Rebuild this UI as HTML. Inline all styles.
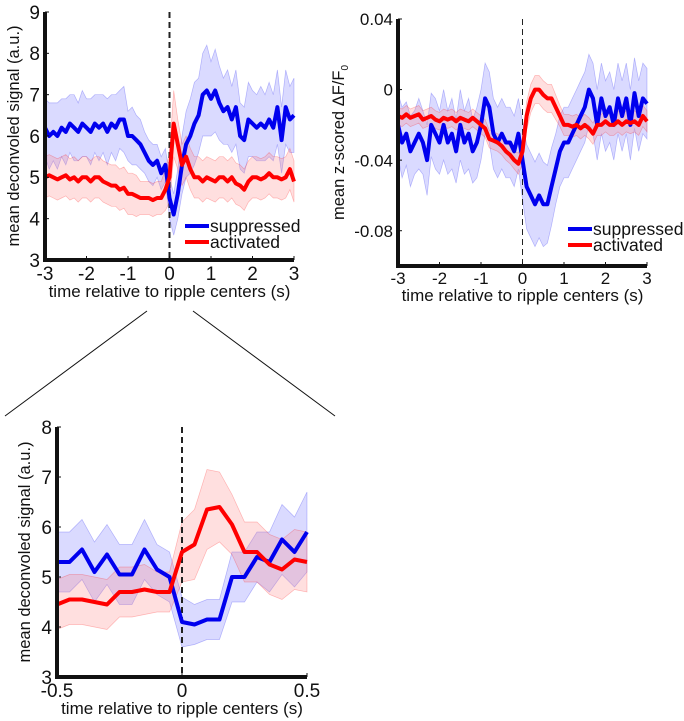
<!DOCTYPE html>
<html><head><meta charset="utf-8"><style>
body{margin:0;background:#fff;}
svg{display:block;font-family:"Liberation Sans",Arial,sans-serif;}
</style></head><body>
<svg id="fig" width="684" height="721" viewBox="0 0 684 721"></svg>
<script>
// Panel A: deconvolved signal, -3..3 s
const tA = [];
const blueA = [6.2,6.0,6.1,6.0,6.2,6.1,6.3,6.2,6.1,6.3,6.2,6.1,6.3,6.2,6.3,6.1,6.3,6.2,6.4,6.4,6.0,6.0,5.9,5.8,5.6,5.4,5.3,5.4,5.1,5.3,4.5,4.1,4.6,5.3,5.8,6.0,6.3,6.5,7.0,7.1,6.9,7.1,6.8,6.6,6.7,6.4,6.7,6.0,5.9,6.4,6.3,6.2,6.3,6.2,6.4,6.2,6.7,5.9,6.7,6.4,6.5];
const blueErrA = [0.7,0.8,0.7,0.8,0.7,0.8,0.7,0.8,0.7,0.8,0.7,0.8,0.7,0.8,0.7,0.8,0.7,0.8,0.7,0.8,0.6,0.7,0.6,0.6,0.5,0.5,0.5,0.4,0.4,0.4,0.5,0.5,0.6,0.7,0.8,0.9,1.0,0.9,1.0,1.1,0.9,1.0,0.9,0.8,0.9,0.8,0.9,0.8,0.8,0.9,0.8,0.8,0.9,0.8,0.9,0.8,0.9,0.8,0.9,0.8,0.9];
const redA = [5.0,5.05,5.0,4.95,5.0,5.05,4.95,5.0,4.9,5.0,5.0,4.9,5.0,5.0,4.9,4.85,4.8,4.8,4.7,4.75,4.6,4.6,4.55,4.5,4.5,4.5,4.45,4.5,4.5,4.7,5.0,6.3,5.8,5.3,5.5,5.2,5.0,5.0,4.9,5.0,4.95,4.9,5.0,5.0,4.9,5.0,4.85,4.8,4.7,4.9,5.0,5.0,4.95,5.0,5.1,5.0,5.0,4.95,5.0,5.2,4.9];
const redErrA = [0.5,0.5,0.5,0.5,0.5,0.5,0.5,0.5,0.5,0.5,0.5,0.5,0.5,0.5,0.5,0.5,0.5,0.5,0.5,0.5,0.5,0.5,0.5,0.4,0.4,0.4,0.4,0.4,0.4,0.5,0.6,0.8,0.6,0.5,0.5,0.5,0.5,0.5,0.5,0.5,0.5,0.5,0.5,0.5,0.5,0.5,0.5,0.5,0.5,0.5,0.5,0.5,0.5,0.5,0.5,0.5,0.5,0.5,0.5,0.5,0.5];
for(let i=0;i<61;i++) tA.push(-3+i*0.1);
const xTicksA = ["-3","-2","-1","0","1","2","3"];
const yTicksA = ["3","4","5","6","7","8","9"];

// Panel B: z-scored dF/F
const blueB = [-0.02,-0.03,-0.025,-0.035,-0.03,-0.025,-0.03,-0.04,-0.02,-0.025,-0.03,-0.02,-0.03,-0.025,-0.035,-0.02,-0.03,-0.025,-0.035,-0.03,-0.02,-0.005,-0.01,-0.025,-0.03,-0.025,-0.03,-0.03,-0.035,-0.025,-0.04,-0.055,-0.06,-0.065,-0.06,-0.065,-0.065,-0.055,-0.045,-0.035,-0.03,-0.03,-0.025,-0.02,-0.015,-0.01,0.0,-0.005,-0.02,-0.005,-0.015,-0.01,-0.02,-0.005,-0.015,-0.005,-0.02,-0.002,-0.015,-0.005,-0.008];
const blueErrB = [0.018,0.02,0.018,0.02,0.018,0.02,0.018,0.02,0.018,0.02,0.018,0.02,0.018,0.02,0.018,0.02,0.018,0.02,0.018,0.02,0.02,0.02,0.02,0.02,0.02,0.02,0.02,0.02,0.02,0.02,0.022,0.024,0.024,0.024,0.024,0.024,0.022,0.022,0.02,0.02,0.02,0.02,0.02,0.02,0.02,0.02,0.02,0.02,0.02,0.02,0.02,0.02,0.02,0.02,0.02,0.02,0.02,0.02,0.02,0.02,0.02];
const redB = [-0.015,-0.016,-0.014,-0.016,-0.015,-0.014,-0.017,-0.016,-0.015,-0.017,-0.018,-0.016,-0.017,-0.016,-0.018,-0.016,-0.017,-0.018,-0.016,-0.018,-0.02,-0.022,-0.028,-0.029,-0.03,-0.032,-0.035,-0.037,-0.04,-0.042,-0.035,-0.015,-0.005,0.0,0.0,-0.003,-0.005,-0.005,-0.01,-0.015,-0.02,-0.02,-0.021,-0.02,-0.022,-0.02,-0.022,-0.025,-0.02,-0.02,-0.018,-0.02,-0.02,-0.018,-0.02,-0.018,-0.019,-0.018,-0.02,-0.015,-0.018];
const redErrB = [0.005,0.005,0.005,0.005,0.005,0.005,0.005,0.005,0.005,0.005,0.005,0.005,0.005,0.005,0.005,0.005,0.005,0.005,0.005,0.005,0.005,0.005,0.005,0.005,0.005,0.005,0.005,0.005,0.005,0.006,0.007,0.008,0.008,0.008,0.008,0.008,0.008,0.008,0.007,0.006,0.006,0.006,0.006,0.006,0.006,0.006,0.006,0.006,0.006,0.006,0.006,0.006,0.006,0.006,0.006,0.006,0.006,0.006,0.006,0.006,0.006];
const yTicksB = ["-0.08","-0.04","0","0.04"];

// Panel C: zoom -0.5..0.5
const tC = [];
for(let i=0;i<21;i++) tC.push(-0.5+i*0.05);
const blueC = [5.3,5.3,5.55,5.1,5.45,5.05,5.05,5.55,5.15,5.0,4.1,4.05,4.15,4.15,5.0,5.0,5.4,5.3,5.75,5.5,5.9];
const blueErrC = [0.6,0.6,0.6,0.6,0.6,0.6,0.6,0.6,0.5,0.5,0.5,0.4,0.4,0.4,0.5,0.5,0.5,0.6,0.7,0.7,0.8];
const redC = [4.45,4.55,4.55,4.5,4.45,4.7,4.7,4.75,4.7,4.7,5.5,5.65,6.35,6.4,6.05,5.5,5.5,5.25,5.15,5.35,5.3];
const redErrC = [0.5,0.5,0.5,0.5,0.5,0.5,0.5,0.5,0.4,0.4,0.6,0.7,0.8,0.7,0.6,0.6,0.6,0.6,0.6,0.6,0.6];
const xTicksC = ["-0.5","0","0.5"];
const yTicksC = ["3","4","5","6","7","8"];

const NS="http://www.w3.org/2000/svg";
const svg=document.getElementById('fig');
function mk(tag,attrs,parent){const e=document.createElementNS(NS,tag);for(const k in attrs)e.setAttribute(k,attrs[k]);(parent||svg).appendChild(e);return e;}

function panel(name,x0,x1,y0,y1,xmin,xmax,ymin,ymax,t,series,xt,yt,lw,fs,ylab,legend){
  const g=mk('g',{});
  
  
  const sx=v=>x0+(v-xmin)/(xmax-xmin)*(x1-x0);
  const sy=v=>y1-(v-ymin)/(ymax-ymin)*(y1-y0);
  series.forEach(s=>{
    let up='',lo='';
    t.forEach((tv,i)=>{up+=(i?'L':'M')+sx(tv).toFixed(1)+','+sy(s.m[i]+s.e[i]).toFixed(1);});
    for(let i=t.length-1;i>=0;i--) lo+='L'+sx(t[i]).toFixed(1)+','+sy(s.m[i]-s.e[i]).toFixed(1);
    const b=mk('path',{d:up+lo+'Z',fill:s.fill,'fill-opacity':0.25,stroke:s.c,'stroke-opacity':0.25,'stroke-width':0.7},g);
    
    
  });
  const z=mk('line',{x1:sx(0),x2:sx(0),y1:y0,y2:y1,stroke:'#222','stroke-width':name==='panel-b'?1:2,'stroke-dasharray':'6,4'},g);
  
  
  series.forEach(s=>{
    let d='';t.forEach((tv,i)=>{d+=(i?'L':'M')+sx(tv).toFixed(1)+','+sy(s.m[i]).toFixed(1);});
    const p=mk('path',{d:d,fill:'none',stroke:s.c,'stroke-width':lw,'stroke-linejoin':'round'},g);
    
    
  });
  const ax=mk('path',{d:`M${x0},${y0}L${x0},${y1}L${x1},${y1}`,fill:'none',stroke:'#111','stroke-width':4},g);
  
  
  xt.forEach(l=>{
    const v=parseFloat(l);
    mk('line',{x1:sx(v),x2:sx(v),y1:y1,y2:y1-4,stroke:'#111','stroke-width':1},g);
    const tx=mk('text',{x:sx(v),y:y1+fs+1,'font-size':fs,'text-anchor':'middle',fill:'#111'},g);
    tx.textContent=l;
    
    
  });
  yt.forEach(l=>{
    const v=parseFloat(l);
    mk('line',{x1:x0,x2:x0+4,y1:sy(v),y2:sy(v),stroke:'#111','stroke-width':1},g);
    const tx=mk('text',{x:x0-5,y:sy(v)+fs*0.36,'font-size':fs,'text-anchor':'end',fill:'#111'},g);
    tx.textContent=l;
    
    
  });
  const xl=mk('text',{x:(x0+x1)/2,y:y1+fs+18,'font-size':17,'text-anchor':'middle',fill:'#111'},g);
  xl.textContent='time relative to ripple centers (s)';
  
  
  const yl=mk('text',{transform:`translate(${ylab.x},${(y0+y1)/2}) rotate(-90)`,'font-size':16.5,'text-anchor':'middle',fill:'#111'},g);
  yl.innerHTML=ylab.html;
  
  
  if(legend){
    series.forEach((s,i)=>{
      const ly=legend.y+i*16;
      const ll=mk('line',{x1:legend.x,x2:legend.x+24,y1:ly,y2:ly,stroke:s.c,'stroke-width':4},g);
      
      
      const lt=mk('text',{x:legend.x+25,y:ly+6,'font-size':17.5,fill:'#111'},g);
      lt.textContent=s.n;
      
      
    });
  }
}
panel('panel-a',45,294,12,260,-3,3,3,9,tA,
  [{n:'suppressed',m:blueA,e:blueErrA,c:'#0000ee',fill:'#6a6aff'},{n:'activated',m:redA,e:redErrA,c:'#ff0000',fill:'#ff8080'}],
  xTicksA,yTicksA,4,19,{x:19,html:'mean deconvoled signal (a.u.)'},{x:185,y:226});
panel('panel-b',398,647,19,266,-3,3,-0.1,0.04,tA,
  [{n:'suppressed',m:blueB,e:blueErrB,c:'#0000ee',fill:'#6a6aff'},{n:'activated',m:redB,e:redErrB,c:'#ff0000',fill:'#ff8080'}],
  xTicksA,yTicksB,4,17,{x:344,html:'mean z-scored ΔF/F<tspan font-size="10" dy="4">0</tspan>'},{x:568,y:229});
panel('panel-c',57,307,427,677,-0.5,0.5,3,8,tC,
  [{n:'suppressed',m:blueC,e:blueErrC,c:'#0000ee',fill:'#6a6aff'},{n:'activated',m:redC,e:redErrC,c:'#ff0000',fill:'#ff8080'}],
  xTicksC,yTicksC,4,19,{x:30,html:'mean deconvoled signal (a.u.)'},null);
const c1=mk('line',{x1:147,y1:311,x2:5,y2:416,stroke:'#111','stroke-width':1});


const c2=mk('line',{x1:193,y1:311,x2:335,y2:416,stroke:'#111','stroke-width':1});


</script>
</body></html>
